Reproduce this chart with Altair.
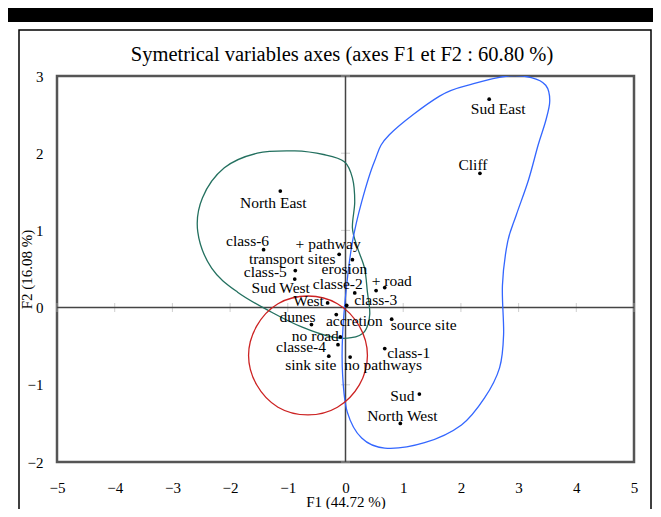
import altair as alt
import pandas as pd

FONT = "Liberation Serif"

# ---- data ----
names = ["Sud East", "Cliff", "North East", "class-6", "transport sites", "erosion",
         "+ pathway", "class-5", "Sud West", "classe-2", "+ road", "West", "class-3",
         "dunes", "accretion", "source site", "no road", "classe-4", "class-1",
         "sink site", "no pathways", "Sud", "North West"]
f1 = [2.49, 2.33, -1.13, -1.42, -0.11, 0.12, 0.53, -0.87, -0.88, 0.16, 0.68, -0.31, 0.02,
      -0.59, -0.16, 0.80, -0.09, -0.13, 0.68, -0.29, 0.08, 1.28, 0.95]
f2 = [2.70, 1.74, 1.51, 0.75, 0.69, 0.62, 0.22, 0.48, 0.37, 0.19, 0.26, 0.06, 0.03,
      -0.22, -0.09, -0.15, -0.38, -0.48, -0.53, -0.63, -0.64, -1.12, -1.50]

# label offsets (pixels) - style only
label_dx = [9, -7, -7, -16, -47, -8, -48, -30, -14, -17, 7, -19, 29, -14, 18, 32, -25, -37, 24, -18, 33, -17, 2]
label_dy = [10, -8, 12, -9, 5, 9, -47, 1, 9, -9, -7, -2, -5, -8, 6, 6, -1, 2, 4, 9, 8, 2, -7]

green_f1 = [-0.88, -0.36, -0.02, 0.12, 0.16, 0.12, 0.21, 0.33, 0.38, 0.42, 0.33, 0.10, -0.24,
            -0.76, -1.28, -1.87, -2.32, -2.56, -2.48, -2.10, -1.53]
green_f2 = [2.03, 1.98, 1.89, 1.68, 1.37, 1.03, 0.77, 0.51, 0.20, -0.09, -0.31, -0.39, -0.38,
            -0.25, -0.06, 0.20, 0.51, 0.98, 1.42, 1.81, 2.00]

blue_f1 = [0.76, 1.63, 2.22, 2.81, 3.22, 3.47, 3.54, 3.47, 3.34, 3.17, 2.96, 2.81, 2.72, 2.74,
           2.67, 2.41, 2.01, 1.37, 0.68, 0.28, 0.03, -0.05, -0.05, 0.02, 0.12, 0.28, 0.50]
blue_f2 = [2.24, 2.74, 2.90, 3.00, 2.98, 2.88, 2.68, 2.42, 2.11, 1.65, 1.20, 0.85, 0.29, -0.35,
           -0.78, -1.17, -1.52, -1.75, -1.82, -1.69, -1.35, -0.87, -0.35, 0.29, 0.85, 1.37, 1.89]

red_f1 = [0.38, 0.24, -0.14, -0.65, -1.17, -1.54, -1.68, -1.54, -1.17, -0.65, -0.14, 0.24]
red_f2 = [-0.62, -0.24, 0.05, 0.15, 0.05, -0.24, -0.62, -1.00, -1.29, -1.39, -1.29, -1.00]

x_ticks = [-5, -4, -3, -2, -1, 0, 1, 2, 3, 4, 5]
y_ticks = [-2, -1, 0, 1, 2, 3]

title_text = "Symetrical variables axes (axes F1 et F2 : 60.80 %)"

# ---- encodings ----
xs = alt.Scale(domain=[-5, 5], nice=False, zero=False)
ys = alt.Scale(domain=[-2, 3], nice=False, zero=False)

X = alt.X("f1:Q", scale=xs, axis=alt.Axis(
    title="F1 (44.72 %)", values=x_ticks, grid=False, domain=False, ticks=False,
    labelFont=FONT, labelFontSize=15, labelColor="black", labelPadding=18,
    labelFlush=False,
    titleFont=FONT, titleFontSize=15, titleFontWeight="normal", titleColor="black",
    titleY=39, titleBaseline="middle"))
Y = alt.Y("f2:Q", scale=ys, axis=alt.Axis(
    title="F2 (16.08 %)", values=y_ticks, grid=False, domain=False, ticks=False,
    labelFont=FONT, labelFontSize=15, labelColor="black", labelPadding=14,
    labelFlush=False,
    titleFont=FONT, titleFontSize=15, titleFontWeight="normal", titleColor="black",
    titleX=-31, titleBaseline="middle"))

pts = pd.DataFrame({"name": names, "f1": f1, "f2": f2})
dummy = pd.DataFrame({"a": [0]})


def curve(fx, fy, color):
    df = pd.DataFrame({"f1": fx, "f2": fy, "k": list(range(len(fx)))})
    return alt.Chart(df).mark_line(
        interpolate="cardinal-closed", color=color, strokeWidth=1.3, clip=True
    ).encode(x=X, y=Y, order="k:Q")


bar = alt.Chart(dummy).mark_rect(color="black").encode(
    x=alt.value(-49), x2=alt.value(600), y=alt.value(-68), y2=alt.value(-54))
frame = alt.Chart(dummy).mark_rect(fill=None, stroke="black", strokeWidth=1.5).encode(
    x=alt.value(-38), x2=alt.value(594), y=alt.value(-46), y2=alt.value(480))
title = alt.Chart(pd.DataFrame({"t": [title_text]})).mark_text(
    font=FONT, fontSize=20.5, color="black", align="center", baseline="middle"
).encode(x=alt.value(285), y=alt.value(-21), text="t:N")

vzero = alt.Chart(pd.DataFrame({"f1": [0]})).mark_rule(color="#444", strokeWidth=1.5).encode(x=X)
hzero = alt.Chart(pd.DataFrame({"f2": [0]})).mark_rule(color="#444", strokeWidth=1.5).encode(y=Y)

xminor = alt.Chart(pd.DataFrame({"f1": x_ticks, "f2": [0] * len(x_ticks)})).mark_tick(
    orient="vertical", size=9, thickness=1, color="#bbbbbb").encode(x=X, y=Y)
yminor = alt.Chart(pd.DataFrame({"f1": [0] * len(y_ticks), "f2": y_ticks})).mark_tick(
    orient="horizontal", size=9, thickness=1, color="#bbbbbb").encode(x=X, y=Y)

dots = alt.Chart(pts).mark_circle(size=14, color="black", opacity=1).encode(x=X, y=Y)

labels = []
for n, dx, dy in zip(names, label_dx, label_dy):
    labels.append(
        alt.Chart(pts).transform_filter(alt.datum.name == n).mark_text(
            font=FONT, fontSize=15.5, color="black", dx=dx, dy=dy,
            align="center", baseline="middle"
        ).encode(x=X, y=Y, text="name:N")
    )

layers = [bar, frame, title, xminor, yminor, vzero, hzero,
          curve(green_f1, green_f2, "#23705f"),
          curve(blue_f1, blue_f2, "#3366ff"),
          curve(red_f1, red_f2, "#cc2222"),
          dots] + labels

chart = alt.layer(*layers).properties(
    width=577, height=386,
    padding={"left": 49, "top": 68, "right": 19, "bottom": 47},
    autosize=alt.AutoSizeParams(type="none"),
    background="white",
).configure_view(stroke="#555555", strokeWidth=2.5)

chart.save("out.html", embed_options={"renderer": "svg", "actions": False})
